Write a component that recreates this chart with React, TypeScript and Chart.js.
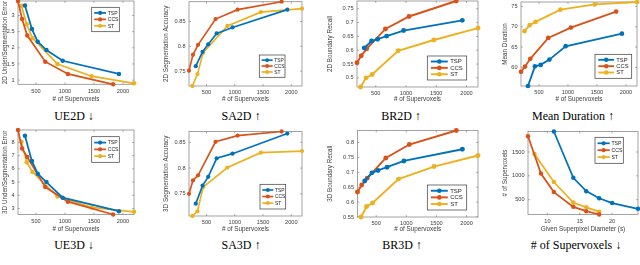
import React, { useEffect, useRef } from 'react';
import { Chart, registerables } from 'chart.js';

Chart.register(...registerables);

// ---------------- data ----------------
const SERIES = ['TSP', 'CCS', 'ST'];
const COLORS = ['#0072BD', '#D95319', '#EDB120'];

// number of supervoxels produced by each method (x of the first seven plots)
const TSP_VOXELS = [310, 430, 530, 680, 960, 1930];
const CCS_VOXELS = [190, 260, 350, 660, 1050, 1830];
const ST_VOXELS = [250, 340, 440, 870, 1460, 2190];

// given superpixel diameter for the same runs
const TSP_DIAM = [24, 20, 18, 16, 14, 11];
const CCS_DIAM = [18, 16, 14, 11, 9, 7];
const ST_DIAM = [18, 16, 14, 11, 8];

const UE2D_TSP = [3.31, 2.58, 2.19, 1.93, 1.6, 1.19];
const UE2D_CCS = [3.45, 2.89, 2.38, 1.57, 1.19, 0.87];
const UE2D_ST = [3.3, 2.73, 2.3, 1.5, 1.12, 0.9];

const SA2D_TSP = [0.76, 0.789, 0.804, 0.826, 0.838, 0.874];
const SA2D_CCS = [0.751, 0.783, 0.803, 0.855, 0.874, 0.89];
const SA2D_ST = [0.72, 0.744, 0.787, 0.841, 0.869, 0.876];

const BR2D_TSP = [0.608, 0.633, 0.64, 0.651, 0.671, 0.708];
const BR2D_CCS = [0.555, 0.58, 0.605, 0.677, 0.722, 0.778];
const BR2D_ST = [0.467, 0.5, 0.512, 0.598, 0.637, 0.68];

const DUR_TSP = [55.4, 60.25, 60.6, 61.9, 65.2, 68.3];
const DUR_CCS = [58.9, 60.2, 62.1, 67.25, 69.8, 73.75];
const DUR_ST = [68.9, 70.4, 71.2, 74.2, 75.5, 76.1];

const UE3D_TSP = [8.51, 6.59, 5.64, 5.0, 3.82, 2.79];
const UE3D_CCS = [8.95, 7.54, 6.9, 4.62, 3.51, 2.54];
const UE3D_ST = [8.05, 6.51, 5.77, 3.9, 3.08, 2.74];

const SA3D_TSP = [0.731, 0.766, 0.783, 0.819, 0.828, 0.867];
const SA3D_CCS = [0.75, 0.776, 0.786, 0.851, 0.863, 0.871];
const SA3D_ST = [0.707, 0.716, 0.763, 0.801, 0.83, 0.833];

const BR3D_TSP = [0.671, 0.698, 0.706, 0.717, 0.738, 0.777];
const BR3D_CCS = [0.634, 0.657, 0.68, 0.748, 0.793, 0.84];
const BR3D_ST = [0.55, 0.585, 0.597, 0.677, 0.719, 0.756];

// tick labels
const VOXEL_TICKS = [500, 1000, 1500, 2000];
const DIAM_TICKS = [10, 15, 20];
const UE2D_TICKS = [1, 1.5, 2, 2.5, 3];
const SA_TICKS = [0.75, 0.8, 0.85];
const BR2D_TICKS = [0.5, 0.55, 0.6, 0.65, 0.7, 0.75];
const DUR_TICKS = [60, 65, 70, 75];
const UE3D_TICKS = [3, 4, 5, 6, 7, 8];
const BR3D_TICKS = [0.55, 0.6, 0.65, 0.7, 0.75, 0.8];
const COUNT_TICKS = [500, 1000, 1500];

const VOX_TITLE = '# of Supervoxels';
const DIAM_TITLE = 'Given Superpixel Diameter (s)';

type Panel = {
  caption: string;
  xTitle: string;
  yTitle: string;
  xs: number[][];
  ys: number[][];
  xTicks: number[];
  yTicks: number[];
};

const VOX = [TSP_VOXELS, CCS_VOXELS, ST_VOXELS];

const PANELS: Panel[] = [
  { caption: 'UE2D ↓', xTitle: VOX_TITLE, yTitle: '2D Under/Segmentation Error', xs: VOX, ys: [UE2D_TSP, UE2D_CCS, UE2D_ST], xTicks: VOXEL_TICKS, yTicks: UE2D_TICKS },
  { caption: 'SA2D ↑', xTitle: VOX_TITLE, yTitle: '2D Segmentation Accuracy', xs: VOX, ys: [SA2D_TSP, SA2D_CCS, SA2D_ST], xTicks: VOXEL_TICKS, yTicks: SA_TICKS },
  { caption: 'BR2D ↑', xTitle: VOX_TITLE, yTitle: '2D Boundary Recall', xs: VOX, ys: [BR2D_TSP, BR2D_CCS, BR2D_ST], xTicks: VOXEL_TICKS, yTicks: BR2D_TICKS },
  { caption: 'Mean Duration ↑', xTitle: VOX_TITLE, yTitle: 'Mean Duration', xs: VOX, ys: [DUR_TSP, DUR_CCS, DUR_ST], xTicks: VOXEL_TICKS, yTicks: DUR_TICKS },
  { caption: 'UE3D ↓', xTitle: VOX_TITLE, yTitle: '3D Under/Segmentation Error', xs: VOX, ys: [UE3D_TSP, UE3D_CCS, UE3D_ST], xTicks: VOXEL_TICKS, yTicks: UE3D_TICKS },
  { caption: 'SA3D ↑', xTitle: VOX_TITLE, yTitle: '3D Segmentation Accuracy', xs: VOX, ys: [SA3D_TSP, SA3D_CCS, SA3D_ST], xTicks: VOXEL_TICKS, yTicks: SA_TICKS },
  { caption: 'BR3D ↑', xTitle: VOX_TITLE, yTitle: '3D Boundary Recall', xs: VOX, ys: [BR3D_TSP, BR3D_CCS, BR3D_ST], xTicks: VOXEL_TICKS, yTicks: BR3D_TICKS },
  { caption: '# of Supervoxels ↓', xTitle: DIAM_TITLE, yTitle: '# of Supervoxels', xs: [TSP_DIAM, CCS_DIAM, ST_DIAM], ys: VOX, xTicks: DIAM_TICKS, yTicks: COUNT_TICKS },
];

// ---------------- layout (page pixels) ----------------
type Frame = {
  L: number; T: number; R: number; B: number;
  yTitleX: number; xTitleY: number;
  capX: number; capY: number;
  leg: { x: number; y: number; w: number; h: number; fs: number };
  s: number;
};

const FRAMES: Frame[] = [
  { L: 18, T: 1, R: 134.5, B: 84.3, yTitleX: 5, xTitleY: 99.3, capX: 74, capY: 116, leg: { x: 91.7, y: 7.3, w: 27.6, h: 24.4, fs: 5.1 }, s: 1 },
  { L: 189, T: 1.7, R: 303, B: 86, yTitleX: 166, xTitleY: 99.3, capX: 241, capY: 116, leg: { x: 259.3, y: 55, w: 25.7, h: 22.3, fs: 4.9 }, s: 0.95 },
  { L: 357, T: 1, R: 479, B: 87, yTitleX: 329.5, xTitleY: 99.3, capX: 401, capY: 116, leg: { x: 427.3, y: 56, w: 39.4, h: 24, fs: 6 }, s: 1.1 },
  { L: 521, T: 2, R: 638, B: 86, yTitleX: 505, xTitleY: 99.3, capX: 573, capY: 116, leg: { x: 595, y: 54.3, w: 36.7, h: 24, fs: 5.8 }, s: 1.05 },
  { L: 18, T: 130, R: 134.5, B: 214.5, yTitleX: 5, xTitleY: 229.3, capX: 74, capY: 244.5, leg: { x: 91.7, y: 136.7, w: 27.6, h: 25.6, fs: 5.1 }, s: 1 },
  { L: 189, T: 131.5, R: 303, B: 216, yTitleX: 166, xTitleY: 229.3, capX: 241, capY: 244.5, leg: { x: 260, y: 184.3, w: 25.7, h: 24.7, fs: 4.9 }, s: 0.95 },
  { L: 357.5, T: 130.5, R: 479, B: 217, yTitleX: 329.5, xTitleY: 229.3, capX: 402, capY: 244.5, leg: { x: 427.3, y: 185, w: 39.4, h: 25, fs: 6 }, s: 1.1 },
  { L: 528, T: 131.5, R: 638.5, B: 214.5, yTitleX: 505, xTitleY: 229.3, capX: 576, capY: 245, leg: { x: 595, y: 137.3, w: 28.3, h: 26, fs: 5.2 }, s: 1 },
];

const SANS = '"Liberation Sans", Arial, Helvetica, sans-serif';
const TITLE_FS = 6.3;
const TICK_FS = 5.6;
const TEXT_COLOR = '#3c3c3c';

function PanelChart({ p, f }: { p: Panel; f: Frame }) {
  const ref = useRef<HTMLCanvasElement>(null);

  const cl = Math.round(f.yTitleX - TITLE_FS * 0.6);
  const ct = Math.round(f.T - 8);
  const yw = f.L - cl;
  const padTop = f.T - ct;
  const H = Math.round(f.xTitleY + TITLE_FS * 0.6 - ct);
  const xh = ct + H - f.B;
  const W = Math.ceil(f.R + 3 - cl);
  const padRight = cl + W - f.R;

  useEffect(() => {
    if (!ref.current) return;
    const datasets = SERIES.map((name, i) => {
      const xs = p.xs[i];
      const ys = p.ys[i];
      const n = Math.min(xs.length, ys.length);
      const pts = [] as { x: number; y: number }[];
      for (let k = 0; k < n; k++) pts.push({ x: xs[k], y: ys[k] });
      return {
        label: name,
        data: pts,
        borderColor: COLORS[i],
        backgroundColor: COLORS[i],
        pointBackgroundColor: COLORS[i],
        pointBorderColor: COLORS[i],
        borderWidth: 1.75 * f.s,
        pointRadius: 2.25 * f.s,
        pointBorderWidth: 0,
        tension: 0,
        fill: false,
        clip: false as any,
      };
    });
    const usedX: number[] = [];
    const usedY: number[] = [];
    datasets.forEach((d) => d.data.forEach((pt) => { usedX.push(pt.x); usedY.push(pt.y); }));

    const boxPlugin = {
      id: 'matlabBox',
      beforeDatasetsDraw(chart: any) {
        const { ctx, chartArea: a, scales } = chart;
        ctx.save();
        ctx.strokeStyle = '#8c8c8c';
        ctx.lineWidth = 0.8;
        ctx.strokeRect(a.left, a.top, a.right - a.left, a.bottom - a.top);
        const tl = 1.8;
        ctx.beginPath();
        p.xTicks.forEach((v) => {
          const x = scales.x.getPixelForValue(v);
          ctx.moveTo(x, a.bottom); ctx.lineTo(x, a.bottom - tl);
          ctx.moveTo(x, a.top); ctx.lineTo(x, a.top + tl);
        });
        p.yTicks.forEach((v) => {
          const y = scales.y.getPixelForValue(v);
          ctx.moveTo(a.left, y); ctx.lineTo(a.left + tl, y);
          ctx.moveTo(a.right, y); ctx.lineTo(a.right - tl, y);
        });
        ctx.stroke();
        ctx.restore();
      },
    };

    const legendPlugin = {
      id: 'matlabLegend',
      afterDatasetsDraw(chart: any) {
        const { ctx } = chart;
        const lg = f.leg;
        const x = lg.x - cl;
        const y = lg.y - ct;
        ctx.save();
        ctx.fillStyle = '#ffffff';
        ctx.fillRect(x, y, lg.w, lg.h);
        ctx.strokeStyle = '#3a3a3a';
        ctx.lineWidth = 0.7;
        ctx.strokeRect(x, y, lg.w, lg.h);
        SERIES.forEach((name, i) => {
          const ry = y + lg.h * (0.23 + 0.265 * i);
          const x0 = x + lg.w * 0.09;
          const x1 = x + lg.w * 0.52;
          ctx.strokeStyle = COLORS[i];
          ctx.lineWidth = 1.75 * f.s;
          ctx.beginPath();
          ctx.moveTo(x0, ry);
          ctx.lineTo(x1, ry);
          ctx.stroke();
          ctx.fillStyle = COLORS[i];
          ctx.beginPath();
          ctx.arc((x0 + x1) / 2, ry, 2.1 * f.s, 0, Math.PI * 2);
          ctx.fill();
          ctx.fillStyle = '#262626';
          ctx.font = `${lg.fs}px ${SANS}`;
          ctx.textBaseline = 'middle';
          ctx.textAlign = 'left';
          ctx.fillText(name, x + lg.w * 0.58, ry + 0.3);
        });
        ctx.restore();
      },
    };

    const tickFont = { size: TICK_FS, family: SANS };
    const titleFont = { size: TITLE_FS, family: SANS };

    const chart = new Chart(ref.current, {
      type: 'line',
      data: { datasets: datasets as any },
      options: {
        animation: false,
        responsive: false,
        maintainAspectRatio: false,
        devicePixelRatio: 1,
        layout: { padding: { top: padTop, right: padRight, left: 0, bottom: 0 } },
        plugins: { legend: { display: false }, tooltip: { enabled: false } },
        scales: {
          x: {
            type: 'linear',
            min: Math.min(...usedX),
            max: Math.max(...usedX),
            afterBuildTicks: (axis: any) => { axis.ticks = p.xTicks.map((v) => ({ value: v })); },
            afterFit: (axis: any) => { axis.height = xh; },
            grid: { display: false, drawTicks: false },
            border: { display: false },
            ticks: { font: tickFont, color: TEXT_COLOR, padding: 3.5, maxRotation: 0, autoSkip: false, callback: (v: any) => String(v) },
            title: { display: true, text: p.xTitle, font: titleFont, color: TEXT_COLOR, padding: { top: 0, bottom: 0 } },
          },
          y: {
            type: 'linear',
            min: Math.min(...usedY),
            max: Math.max(...usedY),
            afterBuildTicks: (axis: any) => { axis.ticks = p.yTicks.map((v) => ({ value: v })); },
            afterFit: (axis: any) => { axis.width = yw; },
            grid: { display: false, drawTicks: false },
            border: { display: false },
            ticks: { font: tickFont, color: TEXT_COLOR, padding: 3.5, autoSkip: false, callback: (v: any) => String(v) },
            title: { display: true, text: p.yTitle, font: titleFont, color: TEXT_COLOR, padding: { top: 0, bottom: 0 } },
          },
        },
      } as any,
      plugins: [boxPlugin, legendPlugin],
    });
    return () => chart.destroy();
  }, []);

  return (
    <>
      <canvas
        ref={ref}
        width={W}
        height={H}
        style={{ position: 'absolute', left: cl, top: ct, width: W, height: H }}
      />
      <div
        style={{
          position: 'absolute',
          left: f.capX,
          top: f.capY,
          transform: 'translate(-50%, -50%)',
          fontFamily: '"Liberation Serif", "Times New Roman", serif',
          fontSize: 12,
          lineHeight: '14px',
          color: '#000',
          whiteSpace: 'nowrap',
        }}
      >
        {p.caption}
      </div>
    </>
  );
}

export default function App() {
  return (
    <div
      style={{
        position: 'absolute',
        left: 0,
        top: 0,
        width: 640,
        height: 265,
        overflow: 'hidden',
        background: '#fff',
      }}
    >
      {PANELS.map((p, i) => (
        <PanelChart key={i} p={p} f={FRAMES[i]} />
      ))}
    </div>
  );
}
